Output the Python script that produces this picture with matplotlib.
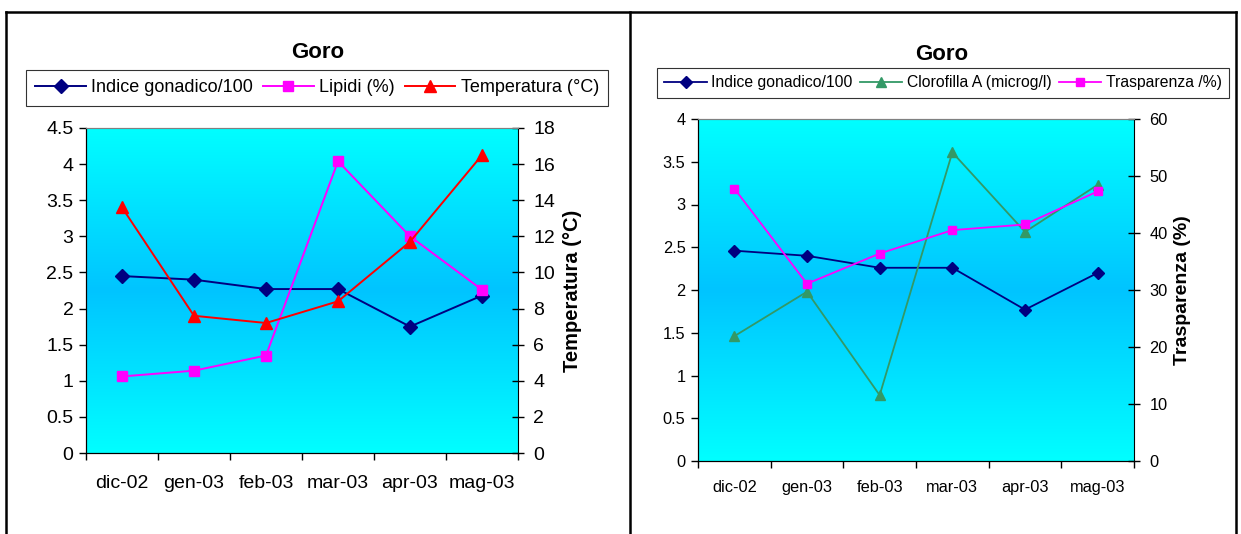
import numpy as np
import matplotlib
matplotlib.use('Agg')
import matplotlib.pyplot as plt
from matplotlib.colors import LinearSegmentedColormap
from matplotlib.lines import Line2D

plt.rcParams['font.family'] = ['Liberation Sans', 'DejaVu Sans']

# dati
mesi = ['dic-02', 'gen-03', 'feb-03', 'mar-03', 'apr-03', 'mag-03']
indice_sx = [2.45, 2.40, 2.27, 2.27, 1.75, 2.18]
lipidi = [1.06, 1.14, 1.35, 4.04, 3.00, 2.26]
temperatura = [13.6, 7.6, 7.2, 8.4, 11.7, 16.5]

indice_dx = [2.46, 2.40, 2.26, 2.26, 1.77, 2.20]
clorofilla = [1.46, 1.98, 0.77, 3.61, 2.68, 3.23]
trasparenza = [47.8, 31.1, 36.4, 40.5, 41.5, 47.3]

W, H = 1241, 534
fig = plt.figure(figsize=(W/100, H/100), dpi=100)

def rect(x0, y0, x1, y1):
    # pixel -> figure fraction
    return [x0/W, 1 - y1/H, (x1-x0)/W, (y1-y0)/H]

sfondo = LinearSegmentedColormap.from_list('sf', ['#00FFFF', '#00C4FF', '#00FFFF'])

def pannello(r, ylim1, yt1, ylim2, yt2, fs, ylab, lab_fs, lab_x, xpad, rpad):
    ax = fig.add_axes(r)
    x = np.arange(len(mesi))
    grad = np.linspace(0, 1, 256).reshape(-1, 1)
    ax.imshow(grad, cmap=sfondo, extent=[0, 1, 0, 1], transform=ax.transAxes,
              aspect='auto', zorder=0)
    ax.set_xlim(-0.5, len(mesi) - 0.5)
    ax.set_ylim(*ylim1)
    ax.set_yticks(yt1)
    ax.set_yticklabels([('%g' % v) for v in yt1], fontsize=fs)
    ax.set_xticks(np.arange(-0.5, len(mesi)), minor=False)
    ax.set_xticklabels([])
    ax.set_xticks(x, minor=True)
    ax.set_xticklabels(mesi, minor=True, fontsize=fs)
    ax.tick_params(axis='x', which='minor', length=0, pad=xpad)
    ax.tick_params(axis='x', which='major', direction='out', length=5, width=1)
    ax.tick_params(axis='y', direction='out', length=5, width=1, pad=4)
    ax.spines['top'].set_color('#808080')
    ax.spines['right'].set_visible(False)
    ax2 = ax.twinx()
    ax2.set_ylim(*ylim2)
    ax2.set_yticks(yt2)
    ax2.set_yticklabels([('%g' % v) for v in yt2], fontsize=fs)
    ax2.tick_params(axis='y', direction='inout', length=8, width=1, pad=rpad)
    ax2.spines['top'].set_color('#808080')
    ax2.set_ylabel(ylab, fontsize=lab_fs, fontweight='bold', rotation=90,
                   va='center', ha='center')
    ax2.yaxis.set_label_coords(lab_x, 0.5)
    return ax, ax2

x = np.arange(len(mesi))

# --- pannello sinistro
ax, ax2 = pannello(rect(86, 128, 518, 453), (0, 4.5), np.arange(0, 4.51, 0.5),
                   (0, 18), np.arange(0, 18.1, 2), 14, 'Temperatura (°C)', 14.5,
                   1.125, 16, 7)
l1, = ax.plot(x, indice_sx, color='#000080', marker='D', ms=7, lw=1.4, zorder=3,
              label='Indice gonadico/100')
l2, = ax.plot(x, lipidi, color='#FF00FF', marker='s', ms=7, lw=1.4, zorder=3,
              label='Lipidi (%)')
l3, = ax2.plot(x, temperatura, color='#FF0000', marker='^', ms=8.5, lw=1.4, zorder=3,
               label='Temperatura (°C)')
fig.text(318/W, 1 - 52/H, 'Goro', ha='center', va='center', fontsize=16, fontweight='bold')
leg = fig.legend(handles=[l1, l2, l3], loc='center', bbox_to_anchor=(317/W, 1 - 88/H),
                 ncol=3, fontsize=13, frameon=True, fancybox=False, handlelength=2.8,
                 columnspacing=0.55, handletextpad=0.3, borderpad=0.5)
leg.get_frame().set_edgecolor('black')
leg.get_frame().set_linewidth(0.8)

# --- pannello destro
bx, bx2 = pannello(rect(698, 119, 1134, 461), (0, 4), np.arange(0, 4.01, 0.5),
                   (0, 60), np.arange(0, 61, 10), 11.8, 'Trasparenza (%)', 14,
                   1.112, 14, 7)
m1, = bx.plot(x, indice_dx, color='#000080', marker='D', ms=6, lw=1.3, zorder=3,
              label='Indice gonadico/100')
m2, = bx.plot(x, clorofilla, color='#339966', marker='^', ms=7, lw=1.3, zorder=3,
              label='Clorofilla A (microg/l)')
m3, = bx2.plot(x, trasparenza, color='#FF00FF', marker='s', ms=6, lw=1.3, zorder=3,
               label='Trasparenza /%)')
fig.text(942/W, 1 - 54/H, 'Goro', ha='center', va='center', fontsize=16, fontweight='bold')
leg2 = fig.legend(handles=[m1, m2, m3], loc='center', bbox_to_anchor=(943/W, 1 - 83/H),
                  ncol=3, fontsize=11.3, frameon=True, fancybox=False, handlelength=2.7,
                  columnspacing=0.45, handletextpad=0.3, borderpad=0.5)
leg2.get_frame().set_edgecolor('black')
leg2.get_frame().set_linewidth(0.8)

# cornice della tabella
for xs, ys in [((6, 1236), (12, 12)), ((6, 6), (12, 534)),
               ((630, 630), (12, 534)), ((1236, 1236), (12, 534))]:
    fig.add_artist(Line2D([v/W for v in xs], [1 - v/H for v in ys], color='black', lw=1.8))

fig.savefig('out.png', dpi=100)
